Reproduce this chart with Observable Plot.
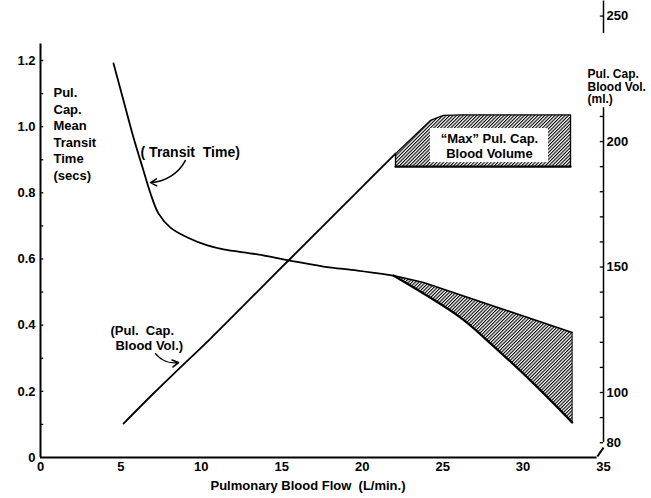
<!DOCTYPE html>
<html><head><meta charset="utf-8">
<script src="https://cdn.jsdelivr.net/npm/d3@7"></script>
<script src="https://cdn.jsdelivr.net/npm/@observablehq/plot@0.6"></script>
<style>
body{margin:0;background:#fff;}
svg text{white-space:pre;}
</style></head><body><div id="chart"></div>
<script>
// ---- tick values ----
const flowTicks = [0, 5, 10, 15, 20, 25, 30, 35];
const transitTicks = [0, 0.2, 0.4, 0.6, 0.8, 1.0, 1.2];
const transitMinorTicks = [0.1, 0.2, 0.3, 0.4, 0.5, 0.6, 0.7, 0.8, 0.9, 1.0, 1.1, 1.2];
const volumeTicks = [80, 100, 150, 200, 250];
const volumeMinorTicks = [80, 90, 100, 110, 120, 130, 140, 150, 160, 170, 180, 190, 200, 210, 250];
// right axis (ml) extent matching the left axis 0..1.2 secs
const volumeAxisExtent = [74.1, 232.3];

// ---- transit time curve (secs) ----
const transitFlow = [4.54, 5.16, 5.78, 6.34, 6.84, 7.33, 8.08, 9.14, 10.38, 11.38, 13.49, 15.42, 17.59, 19.71, 21.94];
const transitTime = [1.191, 1.079, 0.967, 0.877, 0.798, 0.738, 0.695, 0.665, 0.641, 0.629, 0.614, 0.596, 0.577, 0.565, 0.550];
const transitUpperFlow = [21.94, 23.81, 33.05];
const transitUpperTime = [0.550, 0.529, 0.378];
const transitLowerFlow = [21.94, 26.11, 27.97, 30.90, 33.05];
const transitLowerTime = [0.550, 0.423, 0.345, 0.212, 0.106];

// ---- pulmonary capillary blood volume (ml) ----
const volumeFlow = [5.16, 7.02, 8.70, 10.57, 13.55, 15.54, 17.90, 19.27, 22.07];
const volumeMl = [87.6, 99.6, 110.0, 121.5, 140.6, 153.4, 168.5, 177.3, 195.2];
const maxVolFlow = [22.07, 22.07, 24.24, 25.05, 26.2, 32.95, 32.95];
const maxVolMl = [190, 195.2, 208.4, 210.4, 210.6, 210.6, 190];
const maxLabelFlow = [24.24, 31.58];
const maxLabelMl = [191.6, 205.2];

const toT = d3.scaleLinear(volumeAxisExtent, [0, 1.2]);
const pts = (xs, ys) => xs.map((x, i) => ({x, y: ys[i]}));
const transit = pts(transitFlow, transitTime);
const upper = pts(transitUpperFlow, transitUpperTime);
const lower = pts(transitLowerFlow, transitLowerTime);
const wedge = upper.concat(lower.slice().reverse());
const volume = volumeFlow.map((x, i) => ({x, y: toT(volumeMl[i])}));
const maxBox = maxVolFlow.map((x, i) => ({x, y: toT(maxVolMl[i])}));
const maxBottom = [maxBox[0], maxBox[maxBox.length - 1]];
const labelBox = [{x1: maxLabelFlow[0], x2: maxLabelFlow[1], y1: toT(maxLabelMl[0]), y2: toT(maxLabelMl[1])}];

const font = "'Liberation Sans', Arial, sans-serif";

const svg = Plot.plot({
  width: 651, height: 498,
  marginLeft: 40, marginRight: 48, marginTop: 60, marginBottom: 41,
  x: {domain: [0, 35]},
  y: {domain: [0, 1.2]},
  style: {fontFamily: font, fontSize: "13px", fontWeight: "bold", color: "#000", background: "#fff", overflow: "visible"},
  marks: [
    // hatched areas
    Plot.line(wedge, {x: "x", y: "y", fill: "url(#hatch)", stroke: "none"}),
    Plot.line(maxBox, {x: "x", y: "y", fill: "url(#hatch)", stroke: "#000", strokeWidth: 1.3}),
    Plot.line(maxBottom, {x: "x", y: "y", stroke: "#000", strokeWidth: 2.2}),
    Plot.rect(labelBox, {x1: "x1", x2: "x2", y1: "y1", y2: "y2", fill: "#fff"}),
    Plot.text([{x: (maxLabelFlow[0] + maxLabelFlow[1]) / 2, y: toT((maxLabelMl[0] + maxLabelMl[1]) / 2)}],
      {x: "x", y: "y", text: () => "\u201CMax\u201D Pul. Cap.\nBlood Volume", fontSize: 13, lineHeight: 1.2}),
    // curves
    Plot.line(transit, {x: "x", y: "y", stroke: "#000", strokeWidth: 1.8, curve: "catmull-rom"}),
    Plot.line(upper, {x: "x", y: "y", stroke: "#000", strokeWidth: 1.6}),
    Plot.line(lower, {x: "x", y: "y", stroke: "#000", strokeWidth: 2.2, curve: "catmull-rom"}),
    Plot.ruleX([transitLowerFlow[transitLowerFlow.length - 1]], {y1: transitLowerTime[transitLowerTime.length - 1], y2: transitUpperTime[transitUpperTime.length - 1], stroke: "#000", strokeWidth: 1}),
    Plot.line(volume, {x: "x", y: "y", stroke: "#000", strokeWidth: 1.8, curve: "catmull-rom"}),
    // axis lines
    Plot.ruleX([0], {y1: 0, y2: 1.25, strokeWidth: 2}),
    Plot.ruleY([0], {x1: 0, x2: 34.6, strokeWidth: 2}),
    Plot.ruleX([35], {y1: toT(80), y2: toT(213.5), strokeWidth: 1.5}),
    Plot.ruleX([35], {y1: toT(243), y2: toT(256), strokeWidth: 1.5}),
    Plot.link([{x1: 34.62, y1: 0.003, x2: 35, y2: 0.03}], {x1: "x1", y1: "y1", x2: "x2", y2: "y2", strokeWidth: 2}),
    // tick nubs
    Plot.ruleY(transitMinorTicks, {x1: 0, x2: 0.2, strokeWidth: 1.3}),
    Plot.ruleY(volumeMinorTicks.map(toT), {x1: 34.8, x2: 35, strokeWidth: 1.3}),
    // axes labels
    Plot.axisX({ticks: flowTicks, tickSize: 0, tickPadding: 4, label: null}),
    Plot.axisY({anchor: "left", ticks: transitTicks, tickFormat: d => d === 0 ? "0" : d.toFixed(1), tickSize: 0, tickPadding: 5, label: null}),
    Plot.axisY({anchor: "right", ticks: volumeTicks.map(toT), tickFormat: d => String(Math.round(toT.invert(d))), tickSize: 0, tickPadding: 3, label: null}),
    Plot.text(["Pulmonary Blood Flow  (L/min.)"], {frameAnchor: "bottom", dy: 32, dx: -14, fontSize: 13}),
    Plot.text(["Pul.\nCap.\nMean\nTransit\nTime\n(secs)"], {frameAnchor: "top-left", dx: 13, dy: 25, textAnchor: "start", lineAnchor: "top", lineHeight: 1.27, fontSize: 13}),
    Plot.text(["Pul. Cap.\nBlood Vol.\n(ml.)"], {frameAnchor: "top-right", dx: -16, dy: 26, textAnchor: "start", lineAnchor: "middle", lineHeight: 1.05, fontSize: 12}),
    // annotations
    Plot.text([{x: 6.22, y: 0.922}], {x: "x", y: "y", text: () => "( Transit  Time)", textAnchor: "start", fontSize: 14}),
    Plot.arrow([{x1: 9.01, y1: 0.898, x2: 6.84, y2: 0.831}], {x1: "x1", y1: "y1", x2: "x2", y2: "y2", bend: 30, headLength: 7, strokeWidth: 1.5}),
    Plot.text([{x: 4.35, y: 0.384, t: "(Pul.  Cap."}, {x: 4.66, y: 0.339, t: "Blood Vol.)"}], {x: "x", y: "y", text: "t", textAnchor: "start", fontSize: 13}),
    Plot.arrow([{x1: 7.15, y1: 0.314, x2: 8.58, y2: 0.287}], {x1: "x1", y1: "y1", x2: "x2", y2: "y2", bend: -30, headLength: 7, strokeWidth: 1.5})
  ]
});

const ns = "http://www.w3.org/2000/svg";
const defs = document.createElementNS(ns, "defs");
defs.innerHTML = '<pattern id="hatch" patternUnits="userSpaceOnUse" width="2.4" height="2.4" patternTransform="rotate(45)"><rect width="2.4" height="2.4" fill="#fff"/><line x1="0.5" y1="0" x2="0.5" y2="2.4" stroke="#000" stroke-width="1.2"/></pattern>';
svg.insertBefore(defs, svg.firstChild);
document.getElementById("chart").appendChild(svg);
</script>
</body></html>
